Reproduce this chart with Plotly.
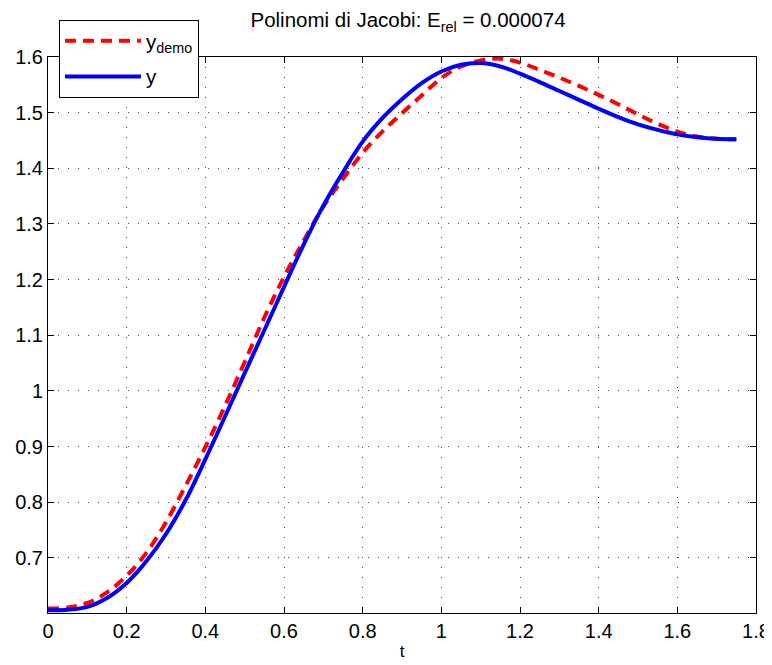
import plotly.graph_objects as go

t = [0.0, 0.05, 0.1, 0.15, 0.2, 0.25, 0.3, 0.35, 0.4, 0.45, 0.5, 0.55, 0.6, 0.65,
     0.7, 0.75, 0.8, 0.85, 0.9, 0.95, 1.0, 1.05, 1.1, 1.15, 1.2, 1.25, 1.3, 1.35,
     1.4, 1.45, 1.5, 1.55, 1.6, 1.65, 1.7, 1.75]

y_demo = [0.609, 0.611, 0.619, 0.638, 0.668, 0.709, 0.764, 0.830, 0.899, 0.973,
          1.052, 1.132, 1.205, 1.270, 1.331, 1.381, 1.428, 1.466, 1.499, 1.531,
          1.562, 1.583, 1.594, 1.597, 1.590, 1.577, 1.563, 1.548, 1.532, 1.515,
          1.497, 1.480, 1.466, 1.457, 1.453, 1.452]

y = [0.606, 0.607, 0.612, 0.628, 0.655, 0.694, 0.743, 0.804, 0.877, 0.954,
     1.032, 1.109, 1.187, 1.263, 1.333, 1.393, 1.448, 1.490, 1.524, 1.553,
     1.574, 1.586, 1.589, 1.583, 1.570, 1.555, 1.539, 1.523, 1.507, 1.492,
     1.479, 1.469, 1.461, 1.456, 1.453, 1.452]

x_ticks = [0, 0.2, 0.4, 0.6, 0.8, 1.0, 1.2, 1.4, 1.6, 1.8]
x_labels = ["0", "0.2", "0.4", "0.6", "0.8", "1", "1.2", "1.4", "1.6", "1.8"]
y_ticks = [0.7, 0.8, 0.9, 1.0, 1.1, 1.2, 1.3, 1.4, 1.5, 1.6]
y_labels = ["0.7", "0.8", "0.9", "1", "1.1", "1.2", "1.3", "1.4", "1.5", "1.6"]

FONT = "Liberation Sans, Arial, sans-serif"

fig = go.Figure()
fig.add_trace(go.Scatter(x=t, y=y_demo, mode="lines", name="y<sub>demo</sub>",
                         legendgroup="a",
                         line=dict(color="#ff0000", width=4, dash="11px,7px", shape="spline")))
fig.add_trace(go.Scatter(x=t, y=y, mode="lines", name="y",
                         legendgroup="b",
                         line=dict(color="#0000ff", width=4, shape="spline")))

axis_common = dict(
    showline=True, linecolor="black", linewidth=1, mirror="ticks",
    ticks="inside", ticklen=6, tickcolor="black", tickwidth=1,
    showgrid=True, gridcolor="#444444", gridwidth=1, griddash="1px,9px",
    zeroline=False, automargin=False,
    tickfont=dict(family=FONT, size=20, color="black"),
)

fig.update_xaxes(range=[0, 1.8], tickvals=x_ticks, ticktext=x_labels,
                 title=dict(text="t", font=dict(family=FONT, size=17, color="black"), standoff=4),
                 **axis_common)
fig.update_yaxes(range=[0.601, 1.6], tickvals=y_ticks, ticktext=y_labels, **axis_common)

fig.update_layout(
    width=764, height=657,
    margin=dict(l=40, r=16, t=49, b=52),
    paper_bgcolor="white", plot_bgcolor="white",
    font=dict(family=FONT, size=20, color="black"),
    title=dict(text="Polinomi di Jacobi: E<sub>rel</sub> = 0.000074",
               xref="container", x=0.5236, xanchor="center",
               yref="container", y=0.9817, yanchor="middle",
               font=dict(family=FONT, size=20.5, color="black")),
    legend=dict(x=0.0155, y=1.0666, xanchor="left", yanchor="top",
                bgcolor="white", bordercolor="black", borderwidth=1,
                font=dict(family=FONT, size=20.5, color="black"),
                itemwidth=76, traceorder="grouped", tracegroupgap=6),
    showlegend=True,
)

fig.write_html("out.html")
